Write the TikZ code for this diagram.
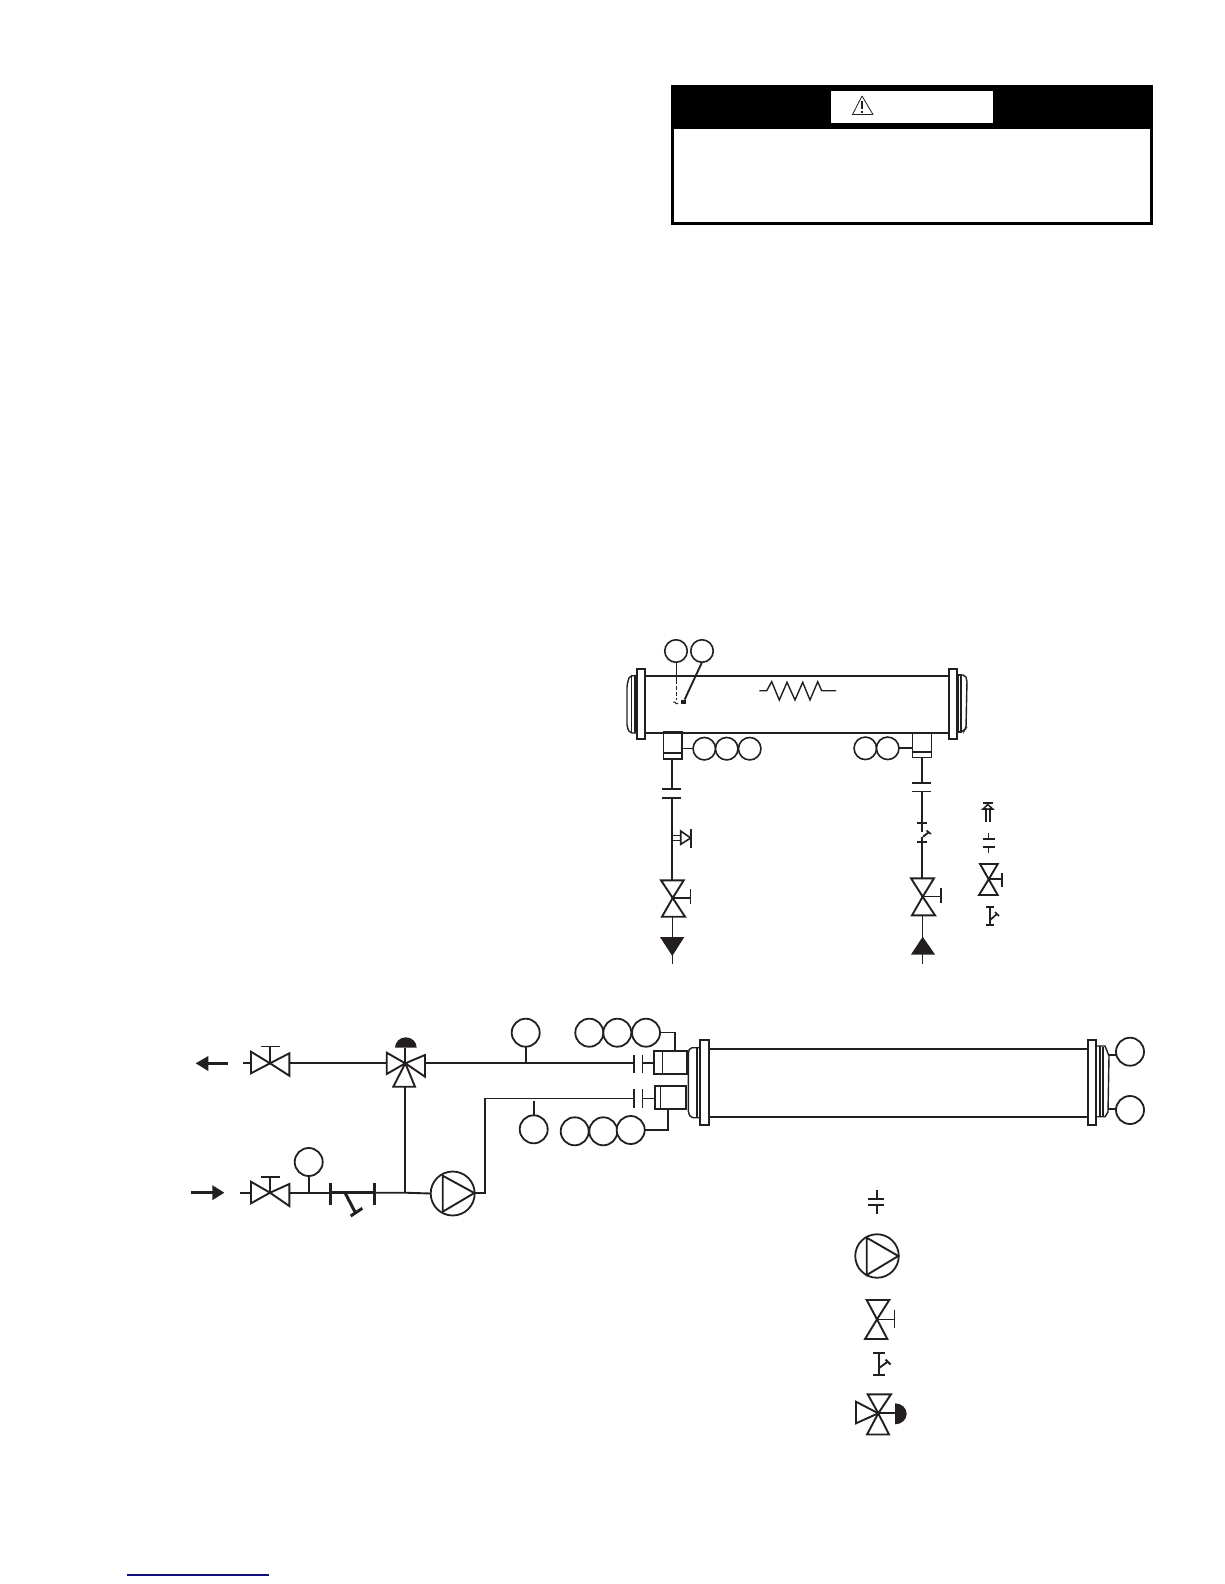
\documentclass[tikz,border=0pt]{standalone}
\definecolor{ink}{HTML}{231F20}
\definecolor{linkblue}{HTML}{10107F}
\tikzset{
  pipe/.style={draw=ink,line width=1.9pt},
  thin pipe/.style={draw=ink,line width=1.4pt},
  heavy/.style={draw=ink,line width=3pt},
  sym/.style={draw=ink,line width=1.9pt,line join=miter,fill=white},
  solidsym/.style={fill=ink,draw=none},
  gauge/.style={circle,draw=ink,line width=1.8pt,fill=white,inner sep=0pt,outer sep=0pt,minimum size=28pt},
  gaugesm/.style={circle,draw=ink,line width=1.6pt,fill=white,inner sep=0pt,outer sep=0pt,minimum size=22.5pt},
  rectbox/.style={draw=ink,line width=1.9pt},
}
\begin{document}
\begin{tikzpicture}[x=1pt,y=-1pt]
\useasboundingbox (0,0) rectangle (1224,1584);

% ---------- warning box ----------
\draw[black,line width=2.6pt] (672.3,86) rectangle (1151.7,223.7);
\fill[black] (671,85) rectangle (1153,129);
\fill[white] (831,91) rectangle (993,123);
\draw[ink,line width=.8pt,line join=round] (862,96) -- (873,114.5) -- (852.5,114.5) -- cycle;
\draw[ink,line width=1.2pt] (862,101) -- (862,109.5);
\fill[ink] (861.2,111) rectangle (862.8,113);

% ---------- upper cooler ----------
\draw[pipe] (645,676) -- (949,676);
\draw[thin pipe] (645,733) -- (949,733);
\draw[rectbox,line width=2.2pt] (637,669) rectangle (645,739);
\draw[rectbox,line width=2.2pt] (949,669) rectangle (957,739);
\draw[thin pipe,rounded corners=2pt] (637,675.5) -- (629.5,676) -- (627,685) -- (627,727) -- (630,733) -- (637,733);
\draw[pipe,line width=1.6pt] (631.5,676) -- (631.5,733);
\draw[pipe,line width=1.6pt] (635,676) -- (635,733);
\draw[thin pipe,rounded corners=2pt] (957,675) -- (965,675) -- (967,680) -- (966,728) -- (964,731) -- (957,732);
\draw[rectbox] (958,675) rectangle (961,732);

\node[gaugesm] (ta) at (676,651) {};
\node[gaugesm] (tb) at (702,651) {};
\coordinate (ta end) at (676,700);
\node[solidsym,minimum size=4.5pt,inner sep=0pt] (tb end) at (683.5,702) {};
\draw[draw=ink,line width=1pt] (ta.south) -- (676,680);
\draw[draw=ink,line width=1pt,dash pattern=on 3.5pt off 2.5pt] (676,680) -- (ta end);
\draw[ink,line width=1pt] (673,702) -- (675,702) -- (676,703.5) -- (678,703.5);
\draw[pipe] (tb.south) -- (tb end);
\draw[thin pipe,line join=miter] (759.3,690.7) -- (766.7,690.7) -- (771.7,681.7) -- (779.3,700) -- (787,682.3) -- (795,700) -- (802.7,682.3) -- (810,700) -- (817.7,681.7) -- (821.7,690.7) -- (836,690.7);

% left nozzle + gauges
\draw[rectbox] (663.5,732) rectangle (681.7,759);
\draw[thin pipe] (663.5,753) -- (681.7,753);
\draw[ink,line width=2.4pt] (663,759) -- (682,759);
\node[gaugesm] (la) at (704.3,748.7) {};
\node[gaugesm] (lb) at (726.7,748.7) {};
\node[gaugesm] (lc) at (749.7,748.7) {};
\coordinate (ln) at (681.7,748.7);
\draw[thin pipe] (ln) -- (la.west);
% right nozzle + gauges
\draw[thin pipe] (912.7,733) rectangle (931.7,757.3);
\draw[thin pipe] (912.7,752) -- (931.7,752);
\node[gaugesm] (ra) at (865.3,748.3) {};
\node[gaugesm] (rb) at (887.7,748.3) {};
\coordinate (rn) at (912.7,748.3);
\draw[pipe] (rb.east) -- (rn);

% left drop
\coordinate (lp1) at (672,759);
\coordinate (lp2) at (672,789);
\coordinate (lp3) at (672,798);
\coordinate (lp4) at (672,898);
\draw[pipe] (lp1) -- (lp2) (lp3) -- (lp4);
\draw[heavy,line width=2.2pt] (662,789) -- (681,789) (662,798) -- (681,798);
% relief valve
\draw[ink,line width=1.3pt] (672,835.7) -- (680.7,835.7) (672,840.7) -- (680.7,840.7);
\draw[sym,line width=1.6pt] (680.7,831) -- (690.7,838) -- (680.7,844.3) -- cycle;
\draw[pipe] (691,829.3) -- (691,847.7);
% valve
\draw[sym] (661,880.3) -- (683.7,880.3) -- (672.7,898) -- cycle;
\draw[sym] (662,916.7) -- (685,916.7) -- (672.7,898) -- cycle;
\draw[thin pipe] (672.7,898) -- (690.3,898) (690.3,889) -- (690.3,904);
\draw[thin pipe] (672.7,916.7) -- (672.7,964);
\fill[ink] (660,937) -- (684.3,937) -- (672.3,956) -- cycle;

% right drop
\coordinate (rp1) at (922.3,757.3);
\coordinate (rp2) at (922.3,782.7);
\coordinate (rp3) at (922.3,791);
\coordinate (rp4) at (922.3,897);
\draw[pipe] (rp1) -- (rp2) (rp3) -- (rp4);
\draw[pipe] (911.7,782.7) -- (931,782.7);
\draw[thin pipe,line width=1pt] (911.7,791) -- (931,791);
\draw[pipe] (917.3,823.3) -- (926.7,823.3) (917.3,841.7) -- (926.7,841.7);
\draw[fill=white,draw=none] (920,825) rectangle (925,840);
\draw[pipe] (922.3,823.3) -- (922.3,832);
\draw[pipe] (922.3,836.7) -- (922.3,841.7);
\draw[pipe] (923,836.7) -- (929,832);
\draw[pipe,line width=1.6pt] (926.5,830.5) -- (931,834);
\draw[sym] (911,878.3) -- (934,878.3) -- (922.7,896.7) -- cycle;
\draw[sym] (912,915.3) -- (935,915.3) -- (922.7,896.7) -- cycle;
\draw[thin pipe] (922.7,896.7) -- (941,896.7);
\draw[pipe] (941,888.3) -- (941,902.7);
\draw[thin pipe] (922.7,915.3) -- (922.7,964);
\fill[ink] (922.7,936.7) -- (935,954.5) -- (911,954.5) -- cycle;

% upper legend
\draw[ink,line width=1.6pt] (983,802.8) -- (992.5,802.8);
\draw[ink,line width=1.6pt] (985.7,821.5) -- (985.7,808) (990,821.5) -- (990,808);
\draw[ink,line width=1.5pt] (983,809) -- (987.8,804.5) -- (992.7,809) -- cycle;
\draw[thin pipe] (988.7,833.3) -- (988.7,839) (988.7,846.7) -- (988.7,852.7);
\draw[pipe,line width=1.6pt] (982.7,839) -- (995,839) (982.7,846.7) -- (995,846.7);
\draw[sym] (980,864) -- (997.7,864) -- (988.7,879.3) -- cycle;
\draw[sym] (979,895) -- (997.7,895) -- (988.7,879.3) -- cycle;
\draw[pipe] (988.7,879.3) -- (1002.3,879.3);
\draw[pipe] (1002.3,872.7) -- (1002.3,886.7);
\draw[pipe,line width=1.7pt] (990,906.7) -- (990,924.7) (985.7,906.7) -- (994.3,906.7) (985.7,924.7) -- (994.3,924.7);
\draw[pipe,line width=1.7pt] (990,920) -- (997,914);
\draw[pipe,line width=1.7pt] (995,912) -- (999,916);

% ---------- lower circuit ----------
% return / supply arrows
\coordinate (oa) at (195.7,1063.3);
\coordinate (ob) at (227.7,1063.3);
\draw[ink,line width=3pt] (ob) -- (206,1063.3);
\fill[ink] (oa) -- (208.3,1056) -- (208.3,1071) -- cycle;
\coordinate (ia) at (191,1192.7);
\coordinate (ib) at (214,1192.7);
\draw[ink,line width=3.4pt] (ia) -- (ib);
\fill[ink] (224.3,1192.7) -- (212.3,1185.2) -- (212.3,1200.2) -- cycle;

% upper line
\coordinate (vt) at (270,1063.3);
\coordinate (tw) at (405.3,1063.3);
\coordinate (fa) at (633.7,1063.3);
\draw[pipe] (243.3,1063.3) -- (vt) -- (tw) -- (fa);
\draw[sym] (251,1051.7) -- (270,1063.3) -- (251,1073.3) -- cycle;
\draw[sym] (289.3,1053.3) -- (270,1063.3) -- (289.3,1075.7) -- cycle;
\draw[thin pipe] (270,1063.3) -- (270,1046.3) (261,1046.3) -- (280,1046.3);

% three-way valve
\draw[pipe] (tw) -- (405.3,1047.7);
\fill[ink] (395,1047.7) arc[start angle=180,end angle=0,radius=10.85pt,y radius=10.4pt] -- cycle;
\draw[sym] (386.7,1052.7) -- (405.3,1063.3) -- (386.7,1074) -- cycle;
\draw[sym] (425,1055) -- (405.3,1063.3) -- (425,1076.7) -- cycle;
\draw[sym] (393.3,1086.7) -- (415,1086.7) -- (405.3,1063.3) -- cycle;

% lower line
\coordinate (vb) at (270,1192.7);
\coordinate (sa) at (330.7,1192.7);
\coordinate (sb) at (374.3,1192.7);
\coordinate (jt) at (405,1192.7);
\node[gauge] (gs) at (308.7,1162) {};
\node[gauge,minimum size=44pt] (pump) at (452.7,1193.5) {};
\draw[pipe] (240,1192.7) -- (vb) -- (sa);
\draw[pipe] (gs.south) -- (gs.south |- vb);
\draw[pipe] (sb) -- (jt) -- (pump.west);
\draw[pipe] (jt) -- (405,1086.7);
\draw[sym] (251,1181.7) -- (270,1192.7) -- (251,1203.3) -- cycle;
\draw[sym] (289.3,1184) -- (270,1192.7) -- (289.3,1206) -- cycle;
\draw[pipe] (270,1192.7) -- (270,1177) (261,1177) -- (280,1177);
% strainer
\draw[heavy] (sa) -- (sb);
\draw[heavy] (330.7,1182.7) -- (330.7,1205) (374.3,1182.7) -- (374.3,1205);
\draw[heavy] (345,1192.7) -- (355,1212);
\draw[heavy] (350.7,1216) -- (362.3,1208.3);
% pump
\draw[sym,fill=none] (442.7,1175.7) -- (474.3,1193) -- (442.7,1211.7) -- cycle;
\coordinate (pa) at (485,1192.7);
\coordinate (pb) at (485,1098.3);
\coordinate (fb) at (633.7,1098.3);
\draw[pipe] (pump.east) ++(0,-.8) -- (pa) -- (pb);
\draw[thin pipe] (484.2,1098.3) -- (fb);

% gauges on the lines
\node[gauge] (g1) at (525.7,1032.7) {};
\draw[pipe] (g1.south) -- (g1.south |- fa);
\node[gauge] (g2) at (533.7,1129.3) {};
\coordinate (g2t) at (533.7,1101);
\draw[pipe] (g2.north) -- (g2t);

\node[gauge] (u1) at (589.3,1032.7) {};
\node[gauge] (u2) at (617.3,1032.7) {};
\node[gauge] (u3) at (646,1032.7) {};
\node[gauge] (d1) at (574.7,1131.3) {};
\node[gauge] (d2) at (603.3,1131.3) {};
\node[gauge] (d3) at (630.7,1130) {};

% flanges at the vessel
\draw[pipe,line width=2.2pt] (633.7,1055) -- (633.7,1072.7) (633.7,1089) -- (633.7,1107.7);
\draw[thin pipe] (642.3,1055) -- (642.3,1072.7) (642.3,1089) -- (642.3,1107.7);
\draw[pipe] (642.3,1063.3) -- (654,1063.3);
\draw[thin pipe] (642.3,1098.3) -- (655,1098.3);

% nozzles
\draw[rectbox] (654,1050.7) rectangle (687.3,1074);
\draw[thin pipe] (662.3,1050.7) -- (662.3,1074);
\draw[rectbox] (655,1085.7) rectangle (686,1109);
\draw[thin pipe] (660.7,1085.7) -- (660.7,1109);
\coordinate (nu) at (675,1050.7);
\coordinate (nd) at (668,1109);
\draw[thin pipe] (u3.east) -- (u3.east -| nu) -- (nu);
\draw[thin pipe] (d3.east) -- (d3.east -| nd) -- (nd);

% vessel
\draw[pipe] (709,1048.7) -- (1087.7,1048.7);
\draw[pipe] (709,1117) -- (1087.7,1117);
\draw[thin pipe,rounded corners=2pt] (700,1047.7) -- (690,1047.7) -- (688.3,1052) -- (688.3,1113) -- (691,1117.7) -- (700,1117.7);
\draw[pipe] (696.7,1047.7) -- (696.7,1117.7);
\draw[rectbox,line width=2.3pt] (700,1040) rectangle (709,1125.3);
\draw[rectbox,line width=2.3pt] (1087.7,1040) rectangle (1096,1125);
\draw[thin pipe] (1096,1046) -- (1105,1046) -- (1109,1056) -- (1108,1112) -- (1105,1116.7) -- (1096,1116.7);
\draw[thin pipe] (1100,1046) -- (1100,1116.7);
\draw[pipe] (1103,1047) -- (1103,1116);
\node[gauge] (e1) at (1130,1051.7) {};
\node[gauge] (e2) at (1130,1110) {};
\draw[pipe] (1108.5,1055) -- (e1.west |- 0,1055);
\draw[pipe] (1108,1108.7) -- (e2.west |- 0,1108.7);

% ---------- lower legend ----------
\draw[thin pipe] (877,1190) -- (877,1199) (877,1205) -- (877,1214);
\draw[pipe] (868.3,1199) -- (884.3,1199) (868.3,1205) -- (884.3,1205);
\node[gauge,minimum size=43.5pt] (lgp) at (877,1256) {};
\draw[sym,fill=none] (866.7,1237.7) -- (898.3,1256) -- (866.7,1275) -- cycle;
\draw[sym] (866.7,1300) -- (889.3,1300) -- (877,1319.3) -- cycle;
\draw[sym] (865,1339) -- (887.3,1339) -- (877,1319.3) -- cycle;
\draw[thin pipe] (877,1319.3) -- (894.3,1319.3) (894.3,1310) -- (894.3,1328.3);
\draw[pipe] (879,1352.7) -- (879,1375) (873.3,1352.7) -- (885,1352.7) (873.3,1375) -- (885,1375);
\draw[pipe] (879,1368) -- (888,1361.5);
\draw[pipe] (885.5,1359.5) -- (890.5,1364.5);
\draw[sym] (856,1401.7) -- (878.3,1413.3) -- (856,1423.3) -- cycle;
\draw[sym] (867.7,1394.3) -- (891,1394.3) -- (878.3,1413.3) -- cycle;
\draw[sym] (867,1434.5) -- (889,1434.5) -- (878.3,1413.3) -- cycle;
\draw[pipe] (878.3,1413.3) -- (895,1413.3);
\fill[ink] (895,1403.3) arc[start angle=90,end angle=-90,x radius=11.7pt,y radius=10.5pt] -- cycle;

% footer rule
\draw[linkblue,line width=1.3pt] (127,1575) -- (269,1575);
\end{tikzpicture}
\end{document}
